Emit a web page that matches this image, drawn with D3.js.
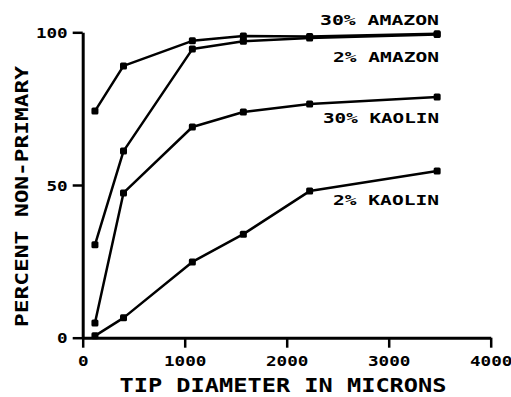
<!DOCTYPE html>
<html>
<head>
<meta charset="utf-8">
<script src="https://cdn.jsdelivr.net/npm/d3@7"></script>
<style>
  body { margin: 0; background: #fff; }
  text { font-family: "DejaVu Sans Mono", monospace; font-weight: bold; fill: #000; }
</style>
</head>
<body>
<div id="chart"></div>
<script>
// 1: DATA
const tipDiameter = [120, 400, 1075, 1575, 2225, 3475];
const amazon30 = [74.2, 89.0, 97.2, 98.8, 98.6, 99.5];
const amazon2 = [30.4, 61.1, 94.5, 97.1, 98.1, 99.3];
const kaolin30 = [4.8, 47.4, 69.0, 73.9, 76.5, 78.8];
const kaolin2 = [0.6, 6.5, 24.8, 33.9, 48.0, 54.6];
const seriesNames = ["30% AMAZON", "2% AMAZON", "30% KAOLIN", "2% KAOLIN"];
const xTicks = [0, 1000, 2000, 3000, 4000];
const yTicks = [0, 50, 100];

const seriesValues = [amazon30, amazon2, kaolin30, kaolin2];

// 2: SET GLOBAL VARIABLES
const margin = { top: 32.3, right: 20.3, bottom: 59.3, left: 82.7 };
const width = 511 - margin.left - margin.right;
const height = 397 - margin.top - margin.bottom;

const svg = d3.select("#chart")
    .append("svg")
    .attr("width", 511)
    .attr("height", 397)
    .style("display", "block")
    .append("g")
    .attr("transform", `translate(${margin.left},${margin.top})`);

// 3: SCALES
const xScale = d3.scaleLinear().domain([0, 4000]).range([0, width]);
const yScale = d3.scaleLinear().domain([0, 100]).range([height, 0]);

// 4: AXES
const xAxis = svg.append("g")
    .attr("transform", `translate(0, ${height})`)
    .call(d3.axisBottom(xScale).tickValues(xTicks).tickFormat(d3.format("d"))
        .tickSize(10).tickPadding(8).tickSizeOuter(0));

const yAxis = svg.append("g")
    .call(d3.axisLeft(yScale).tickValues(yTicks).tickFormat(d3.format("d"))
        .tickSize(10).tickPadding(5).tickSizeOuter(0));

// tick labels in the reference are wide and squat: ~10.5px per digit
[xAxis, yAxis].forEach(ax => {
    ax.select(".domain").attr("stroke", "#000").attr("stroke-width", 3);
    ax.selectAll(".tick line").attr("stroke", "#000").attr("stroke-width", 2.5);
    ax.selectAll(".tick text")
        .style("font-family", "'DejaVu Sans Mono', monospace")
        .style("font-weight", "bold")
        .style("font-size", "14px")
        .attr("fill", "#000")
        .attr("textLength", d => String(d).length * 10.6)
        .attr("lengthAdjust", "spacingAndGlyphs");
});
yAxis.selectAll(".tick text").attr("dy", "0.36em");

// 5: LINES AND MARKERS
const line = d3.line()
    .x((d, i) => xScale(tipDiameter[i]))
    .y(d => yScale(d));

seriesValues.forEach(vals => {
    svg.append("path")
        .datum(vals)
        .attr("fill", "none")
        .attr("stroke", "#000")
        .attr("stroke-width", 2.5)
        .attr("stroke-linejoin", "round")
        .attr("d", line);

    svg.selectAll(null)
        .data(vals)
        .enter()
        .append("rect")
        .attr("x", (d, i) => xScale(tipDiameter[i]) - 3.5)
        .attr("y", d => yScale(d) - 3.5)
        .attr("width", 7)
        .attr("height", 7)
        .attr("rx", 1.5)
        .attr("fill", "#000");
});

// 6: SERIES LABELS
const labelBaselines = [25, 62, 123, 205];
const labelLengths = [119, 106, 116, 106];
seriesNames.forEach((name, i) => {
    svg.append("text")
        .attr("x", 439 - margin.left)
        .attr("y", labelBaselines[i] - margin.top)
        .attr("text-anchor", "end")
        .attr("textLength", labelLengths[i])
        .attr("lengthAdjust", "spacingAndGlyphs")
        .style("font-size", "14px")
        .text(name);
});

// 7: AXIS LABELS
svg.append("text")
    .attr("x", 283 - margin.left)
    .attr("y", 392 - margin.top)
    .attr("text-anchor", "middle")
    .attr("textLength", 327)
    .attr("lengthAdjust", "spacingAndGlyphs")
    .style("font-size", "19px")
    .text("TIP DIAMETER IN MICRONS");

svg.append("text")
    .attr("transform", `translate(${28.5 - margin.left},${196.5 - margin.top}) rotate(-90)`)
    .attr("text-anchor", "middle")
    .attr("textLength", 261)
    .attr("lengthAdjust", "spacingAndGlyphs")
    .style("font-size", "18px")
    .text("PERCENT NON-PRIMARY");
</script>
</body>
</html>
